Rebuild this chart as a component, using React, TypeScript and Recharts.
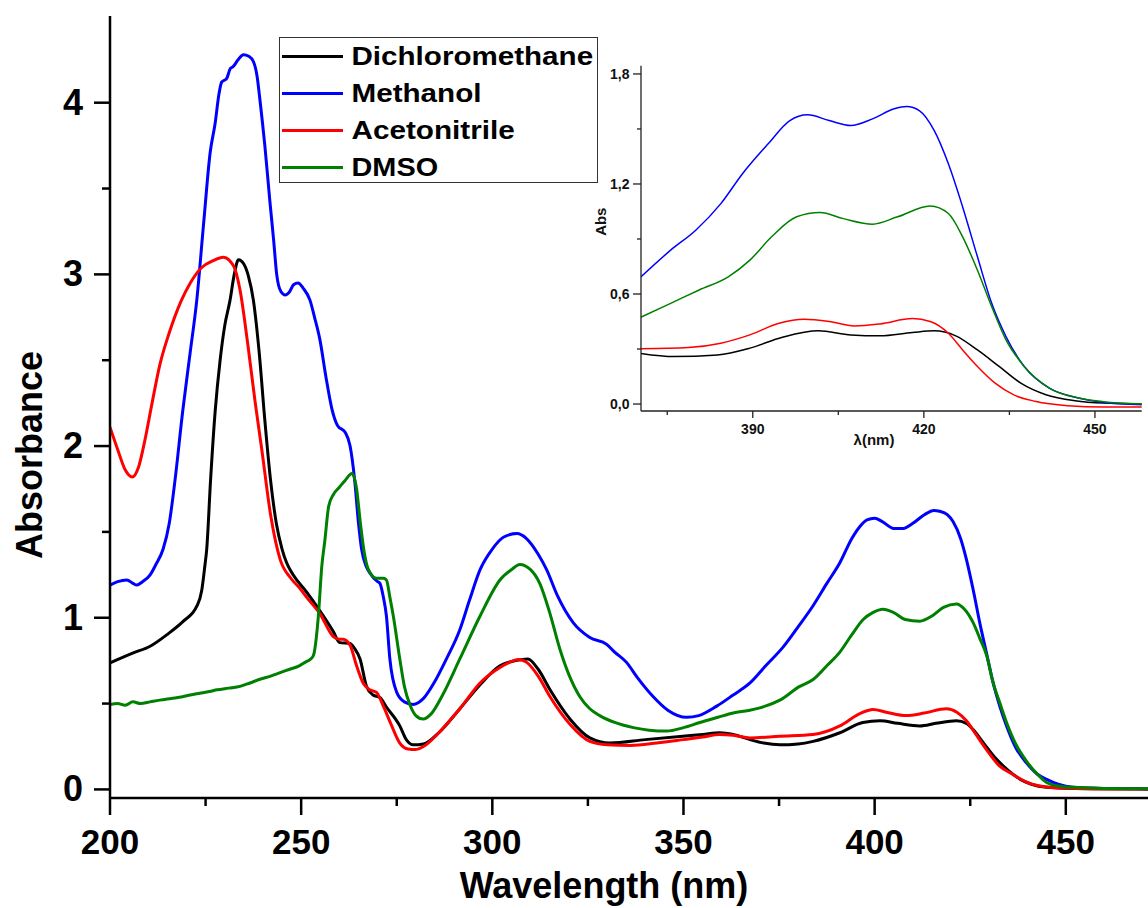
import React from 'react';
import { LineChart, Line, XAxis, YAxis, Legend } from 'recharts';

const FONT = "'Liberation Sans', Arial, Helvetica, sans-serif";

// ---------- series meta ----------
const seriesNames = ['Dichloromethane', 'Methanol', 'Acetonitrile', 'DMSO'];
const seriesColors = ['#000000', '#0000ff', '#ff0000', '#008000'];

// ---------- main chart data: [wavelength nm, absorbance] ----------
const dcmMain: [number, number][] = [
  [200, 0.737], [206.1, 0.795], [210.5, 0.834], [214.8, 0.9], [219.2, 0.98], [222.7, 1.067], [224, 1.16],
  [224.8, 1.3], [225.3, 1.4], [226.3, 1.8], [227.5, 2.2], [228.8, 2.5], [230, 2.7], [231.4, 2.85], [232.5, 3.0],
  [233.6, 3.085], [235, 3.06], [236.2, 2.99], [237.5, 2.85], [239, 2.55], [240.5, 2.15], [242, 1.8], [243.5, 1.55],
  [245, 1.4], [246.2, 1.32], [247.9, 1.25], [251.4, 1.15], [254.9, 1.04], [258.4, 0.92], [260.1, 0.855],
  [262.8, 0.85], [264, 0.82], [265.4, 0.76], [267.1, 0.6], [268.8, 0.55], [270.6, 0.535], [272.3, 0.48],
  [275.8, 0.37], [277.5, 0.29], [279.3, 0.26], [282, 0.265], [286, 0.33], [291.5, 0.47], [296.8, 0.61],
  [302, 0.72], [306, 0.75], [309.3, 0.76], [312, 0.7], [315.1, 0.58], [320.3, 0.41], [325.5, 0.3], [330.8, 0.27],
  [340, 0.29], [349.8, 0.31], [355, 0.32], [359.5, 0.33], [363, 0.32], [367.4, 0.29], [371, 0.27], [375.2, 0.26],
  [380, 0.265], [383.9, 0.28], [390.9, 0.33], [396.9, 0.39], [401.4, 0.4], [406, 0.385], [411.8, 0.37],
  [416, 0.385], [421.4, 0.4], [424, 0.385], [425.7, 0.35], [428.5, 0.27], [431.9, 0.175], [435, 0.11],
  [438, 0.06], [441, 0.03], [445, 0.012], [452, 0.005], [471.5, 0.003],
];

const methanolMain: [number, number][] = [
  [200, 1.19], [202, 1.21], [204.4, 1.22], [206, 1.2], [207, 1.19], [208.5, 1.21], [210.5, 1.25], [212, 1.31],
  [213.9, 1.4], [215.5, 1.55], [217, 1.8], [219, 2.2], [221, 2.55], [222.7, 2.85], [224.5, 3.3], [226.2, 3.71],
  [227.5, 3.88], [228.5, 4.05], [229.2, 4.12], [230.5, 4.14], [231.5, 4.2], [232.2, 4.21], [233.5, 4.25],
  [234.9, 4.28], [236.3, 4.27], [237.5, 4.24], [238.5, 4.15], [239.2, 4.02], [240.5, 3.75], [241.8, 3.43],
  [242.8, 3.2], [243.6, 3.0], [244.7, 2.9], [245.8, 2.88], [247, 2.9], [248, 2.94], [249.2, 2.95], [250.5, 2.92],
  [252.3, 2.85], [253.5, 2.75], [254.9, 2.62], [256.5, 2.4], [258, 2.22], [259.5, 2.12], [261.5, 2.08],
  [262.8, 2.0], [264, 1.8], [265, 1.55], [265.8, 1.4], [267, 1.3], [268, 1.26], [270, 1.21], [270.6, 1.2],
  [271.5, 1.12], [272.3, 1.01], [273.2, 0.76], [275, 0.565], [277, 0.51], [279.3, 0.495], [282, 0.53],
  [285, 0.63], [288, 0.76], [291.5, 0.93], [294, 1.1], [296.8, 1.28], [300, 1.4], [303, 1.47], [306.4, 1.49],
  [309, 1.46], [312, 1.37], [314.2, 1.28], [317, 1.13], [321.2, 0.97], [325.5, 0.885], [329.9, 0.845],
  [332, 0.8], [335.1, 0.74], [338, 0.65], [342.1, 0.54], [346, 0.46], [350.8, 0.42], [354, 0.43], [358.7, 0.485],
  [363, 0.55], [367.4, 0.62], [371.5, 0.72], [376.1, 0.83], [380.4, 0.96], [383.9, 1.07], [387.5, 1.2],
  [390.9, 1.32], [394, 1.46], [396.1, 1.53], [398, 1.57], [400, 1.58], [402, 1.56], [405, 1.52], [407.5, 1.52],
  [410, 1.55], [413, 1.6], [415.5, 1.625], [417, 1.62], [419, 1.6], [420.5, 1.56], [422.5, 1.46], [424, 1.34],
  [425.8, 1.16], [427.5, 0.97], [429.3, 0.79], [431, 0.62], [432.8, 0.48], [434.5, 0.37], [437, 0.24],
  [439.7, 0.155], [442.5, 0.09], [445, 0.058], [448, 0.03], [451.9, 0.012], [460, 0.005], [471.5, 0.003],
];

const acetonitrileMain: [number, number][] = [
  [200, 2.11], [202, 1.98], [204, 1.86], [205.8, 1.82], [207.5, 1.88], [209, 2.02], [211, 2.25], [213, 2.47],
  [215.5, 2.66], [218.5, 2.84], [221, 2.95], [224, 3.04], [227, 3.08], [229.6, 3.1], [232.3, 3.05], [234, 2.91],
  [236, 2.6], [238, 2.25], [239.7, 1.98], [242, 1.6], [244.5, 1.34], [247.3, 1.23], [249.7, 1.17], [251.4, 1.12],
  [255, 1.02], [258.4, 0.89], [260, 0.875], [261, 0.875], [262.8, 0.84], [264.5, 0.72], [266.2, 0.62],
  [268, 0.58], [269.7, 0.565], [271.5, 0.485], [273.5, 0.38], [275.8, 0.27], [278, 0.235], [279.8, 0.232],
  [282, 0.25], [286, 0.33], [291.5, 0.47], [296.8, 0.62], [302, 0.71], [304.5, 0.74], [306.8, 0.757],
  [309, 0.74], [312, 0.66], [315.1, 0.54], [320.3, 0.38], [325.5, 0.28], [330, 0.26], [336.1, 0.256],
  [343, 0.27], [350, 0.29], [355, 0.305], [359.5, 0.32], [363, 0.315], [367.4, 0.3], [375.2, 0.31],
  [383.9, 0.32], [390.9, 0.37], [396, 0.44], [399.6, 0.465], [403, 0.45], [408.3, 0.43], [413, 0.445],
  [418.8, 0.47], [421.5, 0.45], [424, 0.4], [426.5, 0.32], [429.3, 0.23], [432.5, 0.14], [436.2, 0.087],
  [440, 0.04], [443.2, 0.02], [448, 0.008], [460, 0.003], [471.5, 0.002],
];

const dmsoMain: [number, number][] = [
  [200, 0.495], [202, 0.5], [204, 0.49], [206, 0.51], [208, 0.5], [210.5, 0.51], [213, 0.52], [216, 0.53],
  [219, 0.54], [221, 0.55], [223.5, 0.56], [226, 0.57], [228, 0.58], [231, 0.59], [234, 0.6], [236.6, 0.62],
  [239, 0.64], [242, 0.66], [244.5, 0.68], [247, 0.7], [249.5, 0.72], [251, 0.74], [252.5, 0.76], [253.2, 0.78],
  [254.5, 1.01], [255.4, 1.3], [256.2, 1.45], [257.2, 1.65], [258.5, 1.72], [260, 1.76], [261.5, 1.8],
  [263.3, 1.84], [264.5, 1.75], [265.5, 1.55], [266.5, 1.38], [267.6, 1.28], [269.7, 1.23], [271.5, 1.23],
  [272.3, 1.22], [273.2, 1.12], [274.1, 1.01], [275.8, 0.76], [277, 0.6], [278.5, 0.49], [280, 0.43],
  [281.9, 0.41], [284, 0.44], [287, 0.55], [291.5, 0.76], [296.8, 1.01], [302, 1.22], [305, 1.28], [307.2, 1.31],
  [310, 1.28], [312.4, 1.2], [315, 1.03], [317.7, 0.815], [320, 0.67], [322.9, 0.54], [325.5, 0.47],
  [328.1, 0.43], [332, 0.39], [336.9, 0.36], [341, 0.345], [345.6, 0.34], [350, 0.36], [354.3, 0.39],
  [359, 0.42], [363, 0.445], [367, 0.46], [370, 0.475], [375.2, 0.52], [380.4, 0.6], [383.9, 0.64],
  [387.5, 0.72], [390.9, 0.8], [394, 0.9], [397, 0.99], [399.5, 1.03], [402.2, 1.05], [405, 1.03], [408, 0.99],
  [411.8, 0.98], [415, 1.01], [418, 1.06], [421.4, 1.08], [423.5, 1.05], [425.8, 0.97], [427.5, 0.88],
  [429.3, 0.78], [431, 0.62], [432.8, 0.5], [434.5, 0.39], [437, 0.26], [439.7, 0.165], [442.5, 0.09],
  [445, 0.04], [448, 0.02], [452, 0.012], [460, 0.006], [471.5, 0.004],
];

// ---------- inset data: [wavelength nm, absorbance] ----------
const dcmInset: [number, number][] = [
  [370, 0.278], [376.2, 0.259], [383.8, 0.268], [389.5, 0.305], [395.2, 0.364], [401.5, 0.399], [407.2, 0.377],
  [412.3, 0.372], [418, 0.39], [421.8, 0.399], [425.6, 0.372], [429.4, 0.295], [433.2, 0.205], [437, 0.114],
  [441.4, 0.051], [446.5, 0.018], [451.5, 0.005], [459, 0.0],
];
const methanolInset: [number, number][] = [
  [370, 0.682], [375.6, 0.839], [380, 0.948], [384.4, 1.093], [388.2, 1.256], [392.7, 1.419], [396.5, 1.546],
  [399.6, 1.577], [403.4, 1.546], [407.2, 1.519], [411, 1.555], [414.8, 1.61], [417, 1.622], [419.2, 1.6],
  [421.8, 1.492], [424.3, 1.31], [426.8, 1.075], [429.4, 0.803], [431.9, 0.549], [434.4, 0.368], [437.6, 0.205],
  [442, 0.087], [447.1, 0.033], [451.5, 0.009], [459, -0.004],
];
const acetonitrileInset: [number, number][] = [
  [370, 0.301], [378.7, 0.308], [384.4, 0.332], [389.5, 0.377], [394.6, 0.44], [399, 0.462], [403.4, 0.45],
  [407.8, 0.426], [412.3, 0.437], [418, 0.466], [421.1, 0.45], [424.3, 0.386], [426.8, 0.295], [429.4, 0.205],
  [432.5, 0.114], [435.7, 0.051], [439.5, 0.015], [445.2, -0.009], [451.5, -0.016], [459, -0.016],
];
const dmsoInset: [number, number][] = [
  [370, 0.468], [375.6, 0.549], [380.6, 0.622], [385.7, 0.694], [389.5, 0.785], [393.3, 0.912], [397.7, 1.021],
  [401.8, 1.044], [405.9, 1.011], [411, 0.981], [415.4, 1.021], [421.1, 1.08], [424.3, 1.039], [426.8, 0.912],
  [429.4, 0.73], [431.9, 0.531], [434.4, 0.35], [437.6, 0.205], [442, 0.087], [447.1, 0.033], [451.5, 0.013],
  [459, 0.0],
];

// ---------- ticks ----------
const mainXTicks = [200, 225, 250, 275, 300, 325, 350, 375, 400, 425, 450];
const mainYTicks = [0, 0.5, 1, 1.5, 2, 2.5, 3, 3.5, 4];
const insetXTicks = [375, 390, 405, 420, 435, 450];
const insetYTicks = [0, 0.3, 0.6, 0.9, 1.2, 1.5, 1.8];

const toPts = (arr: [number, number][]) => arr.map(([x, y]) => ({ x, y }));

const mainSeries = [dcmMain, methanolMain, acetonitrileMain, dmsoMain].map((d, i) => ({
  name: seriesNames[i],
  color: seriesColors[i],
  data: toPts(d),
}));
const insetSeries = [dcmInset, methanolInset, acetonitrileInset, dmsoInset].map((d, i) => ({
  name: seriesNames[i],
  color: seriesColors[i],
  data: toPts(d),
}));

// ---------- tick renderers ----------
const MainXTick = (props: any) => {
  const { x, y, payload } = props;
  const v = payload.value;
  const major = v % 50 === 0;
  return (
    <g>
      <line x1={x} x2={x} y1={y} y2={y + (major ? 17 : 8)} stroke="#000" strokeWidth={2.5} />
      {major && (
        <text x={x} y={y + 56} textAnchor="middle" fontSize={35} fontWeight="bold" fontFamily={FONT} fill="#000">
          {v}
        </text>
      )}
    </g>
  );
};

const MainYTick = (props: any) => {
  const { x, y, payload } = props;
  const v = payload.value;
  const major = Number.isInteger(v);
  return (
    <g>
      <line x1={x - (major ? 16 : 8)} x2={x} y1={y} y2={y} stroke="#000" strokeWidth={2.5} />
      {major && (
        <text x={x - 27} y={y + 12} textAnchor="end" fontSize={36} fontWeight="bold" fontFamily={FONT} fill="#000">
          {v}
        </text>
      )}
    </g>
  );
};

const InsetXTick = (props: any) => {
  const { x, y, payload } = props;
  const v = payload.value;
  const major = (v - 390) % 30 === 0;
  return (
    <g>
      <line x1={x} x2={x} y1={y} y2={y + (major ? 7 : 4)} stroke="#222" strokeWidth={1.3} />
      {major && (
        <text x={x} y={y + 22.5} textAnchor="middle" fontSize={14} fontWeight="bold" fontFamily={FONT} fill="#111">
          {v}
        </text>
      )}
    </g>
  );
};

const InsetYTick = (props: any) => {
  const { x, y, payload } = props;
  const v = payload.value;
  const major = Math.round(v * 10) % 6 === 0;
  return (
    <g>
      <line x1={x - (major ? 8 : 4)} x2={x} y1={y} y2={y} stroke="#222" strokeWidth={1.3} />
      {major && (
        <text x={x - 11.5} y={y + 5} textAnchor="end" fontSize={14} fontWeight="bold" fontFamily={FONT} fill="#111">
          {v.toFixed(1).replace('.', ',')}
        </text>
      )}
    </g>
  );
};

// ---------- axis titles ----------
const MainXTitle = () => (
  <text x={604} y={898} textAnchor="middle" fontSize={36} fontWeight="bold" fontFamily={FONT} fill="#000">
    Wavelength (nm)
  </text>
);
const MainYTitle = () => (
  <text x={42} y={455} transform="rotate(-90, 42, 455)" textAnchor="middle" fontSize={36} fontWeight="bold" fontFamily={FONT} fill="#000">
    Absorbance
  </text>
);
const InsetXTitle = () => (
  <text x={284} y={405} textAnchor="middle" fontSize={15} fontWeight="bold" fontFamily={FONT} fill="#111">
    λ(nm)
  </text>
);
const InsetYTitle = () => (
  <text x={16.5} y={181.7} transform="rotate(-90, 16.5, 181.7)" textAnchor="middle" fontSize={15} fontWeight="bold" fontFamily={FONT} fill="#111">
    Abs
  </text>
);

// ---------- legend ----------
const legendTextWidths = [241.6, 130, 163.3, 86.6];
const LegendBox = () => (
  <svg width={319} height={146} style={{ display: 'block' }}>
    <rect x={0.5} y={0.5} width={318} height={145} fill="#fff" stroke="#333" strokeWidth={1} />
    {seriesNames.map((n, i) => {
      const base = 28 + 37 * i;
      return (
        <g key={n}>
          <line x1={3} x2={64} y1={base - 8.5} y2={base - 8.5} stroke={seriesColors[i]} strokeWidth={3.2} />
          <text
            x={72.5}
            y={base}
            fontSize={26}
            fontWeight="bold"
            fontFamily={FONT}
            fill="#000"
            textLength={legendTextWidths[i]}
            lengthAdjust="spacingAndGlyphs"
          >
            {n}
          </text>
        </g>
      );
    })}
  </svg>
);

export default function App() {
  return (
    <div style={{ position: 'absolute', left: 0, top: 0, width: 1148, height: 908, overflow: 'hidden', background: '#fff' }}>
      <LineChart width={1148} height={908} margin={{ top: 16, right: 0, bottom: 0, left: 0 }}>
        <XAxis
          type="number"
          dataKey="x"
          domain={[200, 471.5]}
          allowDataOverflow
          ticks={mainXTicks}
          interval={0}
          height={110}
          tickSize={0}
          tickMargin={0}
          tickLine={false}
          tick={(p: any) => <MainXTick {...p} />}
          axisLine={{ stroke: '#000', strokeWidth: 2.5 }}
          label={<MainXTitle />}
        />
        <XAxis
          xAxisId="top"
          orientation="top"
          type="number"
          dataKey="x"
          domain={[200, 471.5]}
          allowDataOverflow
          height={0}
          tick={false}
          tickLine={false}
          axisLine={{ stroke: '#000', strokeWidth: 2.5 }}
        />
        <YAxis
          type="number"
          dataKey="y"
          domain={[-0.05, 4.505]}
          allowDataOverflow
          ticks={mainYTicks}
          interval={0}
          width={110}
          tickSize={0}
          tickMargin={0}
          tickLine={false}
          tick={(p: any) => <MainYTick {...p} />}
          axisLine={{ stroke: '#000', strokeWidth: 2.5 }}
          label={<MainYTitle />}
        />
        <Legend
          verticalAlign="middle"
          align="center"
          layout="horizontal"
          content={() => <LegendBox />}
          wrapperStyle={{ left: 279, top: 37, width: 319, height: 146 }}
        />
        {mainSeries.map((s) => (
          <Line
            key={s.name}
            name={s.name}
            data={s.data}
            dataKey="y"
            type="monotone"
            stroke={s.color}
            strokeWidth={3}
            dot={false}
            activeDot={false}
            isAnimationActive={false}
          />
        ))}
      </LineChart>

      <div style={{ position: 'absolute', left: 590, top: 40 }}>
        <LineChart width={558} height={416} margin={{ top: 25.7, right: 6.3, bottom: 0, left: 0 }}>
          <XAxis
            type="number"
            dataKey="x"
            domain={[370.4, 458.2]}
            allowDataOverflow
            ticks={insetXTicks}
            interval={0}
            height={45}
            tickSize={0}
            tickMargin={0}
            tickLine={false}
            tick={(p: any) => <InsetXTick {...p} />}
            axisLine={{ stroke: '#222', strokeWidth: 1.3 }}
            label={<InsetXTitle />}
          />
          <XAxis
            xAxisId="t"
            orientation="top"
            type="number"
            domain={[370.4, 458.2]}
            allowDataOverflow
            height={0}
            tick={false}
            tickLine={false}
            axisLine={{ stroke: '#222', strokeWidth: 1.3 }}
          />
          <YAxis
            type="number"
            dataKey="y"
            domain={[-0.038, 1.845]}
            allowDataOverflow
            ticks={insetYTicks}
            interval={0}
            width={51}
            tickSize={0}
            tickMargin={0}
            tickLine={false}
            tick={(p: any) => <InsetYTick {...p} />}
            axisLine={{ stroke: '#222', strokeWidth: 1.3 }}
            label={<InsetYTitle />}
          />
          <YAxis
            yAxisId="r"
            orientation="right"
            type="number"
            domain={[0, 1]}
            width={0}
            tick={false}
            tickLine={false}
            axisLine={{ stroke: '#222', strokeWidth: 1.3 }}
          />
          {insetSeries.map((s) => (
            <Line
              key={s.name}
              name={s.name}
              data={s.data}
              dataKey="y"
              type="monotone"
              stroke={s.color}
              strokeWidth={1.5}
              dot={false}
              activeDot={false}
              isAnimationActive={false}
            />
          ))}
        </LineChart>
      </div>
    </div>
  );
}
